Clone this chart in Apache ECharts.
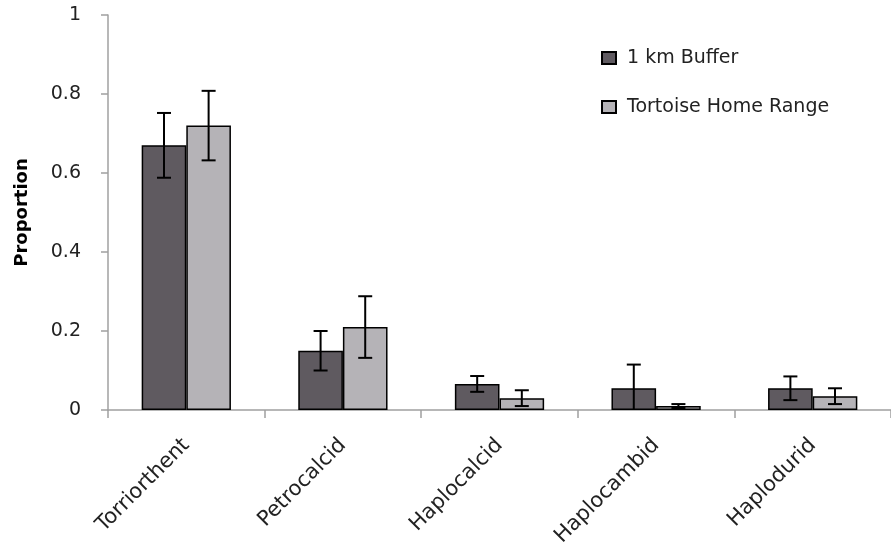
<!DOCTYPE html>
<html>
<head>
<meta charset="utf-8">
<script src="https://cdn.jsdelivr.net/npm/echarts@6/dist/echarts.min.js"></script>
<style>
html,body{margin:0;padding:0;background:#fff;}
#chart{width:891px;height:552px;}
</style>
</head>
<body>
<div id="chart"></div>
<script>
const categories = ['Torriorthent', 'Petrocalcid', 'Haplocalcid', 'Haplocambid', 'Haplodurid'];
const seriesNames = ['1 km Buffer', 'Tortoise Home Range'];
const bufferValues = [0.67, 0.15, 0.066, 0.055, 0.055];
const bufferErrors = [0.082, 0.05, 0.02, 0.06, 0.03];
const homeValues = [0.72, 0.21, 0.03, 0.01, 0.035];
const homeErrors = [0.088, 0.078, 0.02, 0.005, 0.02];
const yTicks = [0, 0.2, 0.4, 0.6, 0.8, 1];

const colors = ['#5f5a60', '#b5b3b7'];
const catGap = 0.43;
const FONT = '"DejaVu Sans", sans-serif';

function errorSeries(name, values, errors, sideIndex) {
  const data = values.map((v, i) => [i, v, errors[i]]);
  return {
    type: 'custom',
    name: name + ' error',
    silent: true,
    z: 10,
    data: data,
    renderItem: function (params, api) {
      const idx = api.value(0);
      const v = api.value(1);
      const e = api.value(2);
      const catW = api.size([1, 0])[0];
      const barW = catW * (1 - catGap) / 2;
      const center = api.coord([idx, 0])[0];
      const x = center + (sideIndex === 0 ? -barW / 2 : barW / 2);
      const lowV = Math.max(0, v - e);
      const yHigh = api.coord([idx, v + e])[1];
      const yLow = api.coord([idx, lowV])[1];
      const cap = 7;
      const style = { stroke: '#000', lineWidth: 2 };
      const children = [
        { type: 'line', shape: { x1: x, y1: yHigh, x2: x, y2: yLow }, style: style },
        { type: 'line', shape: { x1: x - cap, y1: yHigh, x2: x + cap, y2: yHigh }, style: style }
      ];
      if (v - e >= 0) {
        children.push({ type: 'line', shape: { x1: x - cap, y1: yLow, x2: x + cap, y2: yLow }, style: style });
      }
      return { type: 'group', children: children };
    }
  };
}

const chart = echarts.init(document.getElementById('chart'));
chart.setOption({
  animation: false,
  backgroundColor: '#fff',
  textStyle: { fontFamily: FONT },
  grid: { left: 108, right: 0, top: 15, bottom: 142, containLabel: false },
  legend: {
    orient: 'vertical',
    left: 601,
    top: 48,
    padding: 0,
    itemGap: 29,
    itemWidth: 14,
    itemHeight: 12,
    icon: 'rect',
    data: seriesNames,
    textStyle: { fontSize: 19, color: '#222', lineHeight: 20, fontFamily: FONT, padding: [0, 0, 0, 6] }
  },
  xAxis: {
    type: 'category',
    data: categories,
    axisLine: { lineStyle: { color: '#a0a0a0', width: 1.5 } },
    axisTick: { show: true, alignWithLabel: false, length: 8, lineStyle: { color: '#a0a0a0', width: 1.5 } },
    axisLabel: { rotate: 45, fontSize: 21, color: '#222', margin: 32, interval: 0, fontFamily: FONT }
  },
  yAxis: {
    type: 'value',
    min: 0,
    max: 1,
    interval: 0.2,
    name: 'Proportion',
    nameLocation: 'middle',
    nameRotate: 90,
    nameGap: 77,
    nameTextStyle: { fontSize: 18, fontWeight: 'bold', color: '#000', fontFamily: FONT },
    axisLine: { show: true, lineStyle: { color: '#a0a0a0', width: 1.5 } },
    axisTick: { show: true, length: 7, lineStyle: { color: '#a0a0a0', width: 1.5 } },
    splitLine: { show: false },
    axisLabel: {
      fontSize: 19, color: '#222', margin: 27, fontFamily: FONT,
      formatter: function (v) { return yTicks.indexOf(v) >= 0 ? String(v) : ''; }
    }
  },
  series: [
    {
      type: 'bar',
      name: seriesNames[0],
      data: bufferValues,
      barGap: '0%',
      barCategoryGap: (catGap * 100) + '%',
      itemStyle: { color: colors[0], borderColor: '#000', borderWidth: 1.5 }
    },
    {
      type: 'bar',
      name: seriesNames[1],
      data: homeValues,
      barGap: '0%',
      barCategoryGap: (catGap * 100) + '%',
      itemStyle: { color: colors[1], borderColor: '#000', borderWidth: 1.5 }
    },
    errorSeries(seriesNames[0], bufferValues, bufferErrors, 0),
    errorSeries(seriesNames[1], homeValues, homeErrors, 1)
  ]
});
</script>
</body>
</html>
